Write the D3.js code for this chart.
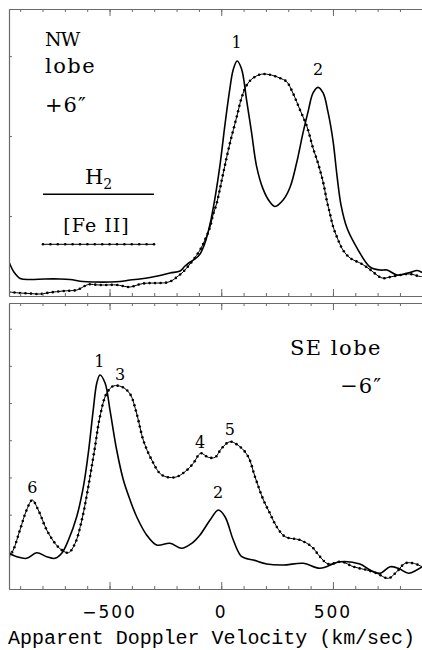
<!DOCTYPE html>
<html>
<head>
<meta charset="utf-8">
<script src="https://cdn.jsdelivr.net/npm/d3@7"></script>
<style>
  html, body { margin: 0; padding: 0; background: #fff; }
  svg { display: block; }
</style>
</head>
<body>
<svg id="chart" width="422" height="650"></svg>
<script>
// Velocity grid (km/s) and line intensities for the NW lobe (+6")
const nwH2Vel = [-950,-928,-900,-856,-789,-722,-677,-619,-565,-498,-453,-408,-364,-319,-274,-229,-184,-162,-139,-117,-95,-73,-50,-28,-5,17,39,53,71,91,113,136,158,187,218,241,277,308,337,366,389,411,433,456,478,500,518,536,563,608,666,711,742,787,845,877,899];
const nwH2Flux = [0.425,0.30,0.219,0.206,0.213,0.213,0.206,0.181,0.175,0.175,0.181,0.200,0.213,0.231,0.256,0.288,0.313,0.375,0.425,0.463,0.525,0.663,0.90,1.225,1.65,2.15,2.60,2.825,2.94,2.84,2.46,2.04,1.625,1.34,1.175,1.12,1.20,1.36,1.66,2.04,2.31,2.54,2.61,2.54,2.30,1.95,1.51,1.14,0.85,0.60,0.363,0.325,0.325,0.263,0.294,0.319,0.294];

const nwFeVel = [-950,-901,-856,-811,-766,-708,-646,-619,-596,-543,-466,-431,-408,-350,-274,-243,-216,-193,-171,-140,-126,-95,-73,-50,-37,-20,-5,9,39,69,92,114,142,181,226,263,293,321,353,383,411,433,456,474,487,500,518,545,577,630,666,720,756,800,845,890,899];
const nwFeFlux = [0.05,0.0375,0.031,0.025,0.044,0.0625,0.075,0.1125,0.144,0.1375,0.1375,0.119,0.1125,0.156,0.1625,0.169,0.20,0.25,0.30,0.40,0.45,0.575,0.70,0.8625,1.0125,1.1625,1.35,1.5375,1.9125,2.2375,2.4875,2.6375,2.725,2.775,2.7625,2.725,2.68,2.5375,2.325,2.125,1.85,1.6625,1.425,1.175,1.025,0.875,0.7375,0.575,0.475,0.40,0.331,0.225,0.2375,0.2625,0.275,0.244,0.244];

// Velocity grid (km/s) and line intensities for the SE lobe (-6")
const seH2Vel = [-950,-915,-871,-826,-781,-744,-714,-684,-647,-617,-595,-573,-557,-543,-520,-498,-468,-438,-408,-378,-334,-289,-229,-177,-132,-95,-50,-13,17,54,92,144,204,278,368,442,532,621,666,711,756,793,838,875,899];
const seH2Flux = [0.96,0.868,0.825,0.976,0.868,0.825,0.96,1.317,1.944,2.75,3.656,4.812,5.538,5.753,5.538,4.812,3.737,2.93,2.392,1.935,1.452,1.183,1.228,1.094,1.228,1.452,1.855,2.124,1.944,1.317,0.868,0.78,0.672,0.645,0.691,0.556,0.734,0.672,0.511,0.422,0.60,0.556,0.422,0.511,0.60];

const seFeVel = [-950,-931,-901,-871,-846,-819,-781,-744,-714,-684,-654,-624,-595,-565,-543,-513,-483,-445,-408,-378,-349,-311,-266,-207,-162,-125,-92,-58,-28,2,39,84,121,151,189,218,248,286,353,405,442,479,539,591,651,696,748,786,823,860,899];
const seFeFlux = [0.868,1.048,1.586,2.124,2.392,2.124,1.586,1.228,1.048,0.976,1.228,1.855,2.75,3.825,4.632,5.261,5.457,5.438,5.242,4.704,4.005,3.468,3.065,3.003,3.153,3.379,3.648,3.54,3.54,3.782,3.96,3.825,3.556,3.019,2.392,2.035,1.675,1.406,1.317,1.137,0.868,0.672,0.734,0.599,0.511,0.422,0.288,0.465,0.691,0.691,0.60];

// Peak identifiers: [velocity, intensity at label baseline, label]
const nwPeakVel = [69, 433];
const nwPeakY = [3.10, 2.76];
const nwPeakText = ["1", "2"];
const sePeakVel = [-546, -453, -95, 39, -14, -846];
const sePeakY = [5.97, 5.62, 3.79, 4.14, 2.45, 2.58];
const sePeakText = ["1", "3", "4", "5", "2", "6"];

// Axis ticks
const majorTicks = [-500, 0, 500];
const minorTicks = d3.range(-900, 901, 100);
const nwYTicks = [1, 2, 3];
const seYTicks = [1, 2, 3, 4, 5, 6, 7];
const xTitle = "Apparent Doppler Velocity (km/sec)";

const svg = d3.select("#chart");
const frameColor = "#6a6a6a";
const serif = "'DejaVu Serif', serif";
const sans = "'DejaVu Sans', sans-serif";
const mono = "'Liberation Mono', monospace";

const x = d3.scaleLinear().domain([-950, 900]).range([9, 422.3]);
const yNW = d3.scaleLinear().domain([0, 3.59]).range([296, 9]);
const ySE = d3.scaleLinear().domain([0, 7.69]).range([589, 303]);

function zip(v, f) { return v.map((d, i) => [d, f[i]]); }

function panel(id, y, yTicks, h2, fe) {
  const [y0, y1] = y.range();
  const g = svg.append("g");
  g.append("clipPath").attr("id", id)
    .append("rect").attr("x", x.range()[0]).attr("y", y1)
    .attr("width", 440).attr("height", y0 - y1);

  const line = d3.line().x(d => x(d[0])).y(d => y(d[1]))
    .curve(d3.curveCatmullRom.alpha(0.5));

  const plot = g.append("g").attr("clip-path", `url(#${id})`);
  // H2: solid line
  plot.append("path").datum(h2).attr("d", line)
    .attr("fill", "none").attr("stroke", "#000").attr("stroke-width", 1.6)
    .attr("stroke-linejoin", "round");
  // [Fe II]: thin line with dots along it
  const fePath = plot.append("path").datum(fe).attr("d", line)
    .attr("fill", "none").attr("stroke", "#000").attr("stroke-width", 1);
  const node = fePath.node();
  const len = node.getTotalLength();
  const pts = d3.range(0, len, 5.5).map(s => node.getPointAtLength(s));
  plot.append("g").selectAll("circle").data(pts).join("circle")
    .attr("cx", p => p.x).attr("cy", p => p.y).attr("r", 1.3).attr("fill", "#000");

  // Frame and ticks
  const axStyle = sel => {
    sel.select(".domain").attr("stroke", frameColor).attr("stroke-width", 1.2);
    sel.selectAll(".tick line").attr("stroke", frameColor).attr("stroke-width", 1);
    sel.selectAll("text").remove();
  };
  g.append("g").attr("transform", `translate(0,${y0})`)
    .call(d3.axisBottom(x).tickValues(minorTicks).tickSize(-3).tickSizeOuter(0)).call(axStyle);
  g.append("g").attr("transform", `translate(0,${y0})`)
    .call(d3.axisBottom(x).tickValues(majorTicks).tickSize(-7).tickSizeOuter(0)).call(axStyle);
  g.append("g").attr("transform", `translate(0,${y1})`)
    .call(d3.axisTop(x).tickValues(minorTicks).tickSize(-3).tickSizeOuter(0)).call(axStyle);
  g.append("g").attr("transform", `translate(0,${y1})`)
    .call(d3.axisTop(x).tickValues(majorTicks).tickSize(-7).tickSizeOuter(0)).call(axStyle);
  g.append("g").attr("transform", `translate(${x.range()[0]},0)`)
    .call(d3.axisLeft(y).tickValues(yTicks).tickSize(-3).tickSizeOuter(0)).call(axStyle);
  return g;
}

const gNW = panel("clipNW", yNW, nwYTicks, zip(nwH2Vel, nwH2Flux), zip(nwFeVel, nwFeFlux));
const gSE = panel("clipSE", ySE, seYTicks, zip(seH2Vel, seH2Flux), zip(seFeVel, seFeFlux));

// Peak numbers
function peakLabels(g, y, vel, yy, txt) {
  g.append("g").selectAll("text").data(txt).join("text")
    .attr("x", (d, i) => x(vel[i])).attr("y", (d, i) => y(yy[i]))
    .attr("text-anchor", "middle")
    .attr("font-family", serif).attr("font-size", 16).text(d => d);
}
peakLabels(gNW, yNW, nwPeakVel, nwPeakY, nwPeakText);
peakLabels(gSE, ySE, sePeakVel, sePeakY, sePeakText);

// Panel captions
const cap = (t, px, py, anchor, size, spacing) =>
  svg.append("text").attr("x", px).attr("y", py)
    .attr("text-anchor", anchor).attr("font-family", serif).attr("font-size", size)
    .attr("letter-spacing", spacing).text(t);
cap("NW", 45, 46, "start", 19, -1);
cap("lobe", 45, 73, "start", 21, 1.5);
cap("+6\u2033", 45, 111.5, "start", 21, 1);
cap("SE lobe", 382, 355, "end", 21, 1.5);
cap("\u22126\u2033", 382, 393, "end", 21, 1);

// Legend
const lx0 = 43, lx1 = 154;
svg.append("line").attr("x1", lx0).attr("x2", lx1).attr("y1", 194.3).attr("y2", 194.3)
  .attr("stroke", "#000").attr("stroke-width", 1.6);
const h2 = svg.append("text").attr("x", (lx0 + lx1) / 2).attr("y", 184)
  .attr("text-anchor", "middle").attr("font-family", serif).attr("font-size", 21);
h2.append("tspan").text("H");
h2.append("tspan").attr("font-size", 14).attr("dy", 5).text("2");
svg.append("text").attr("x", (lx0 + lx1) / 2 - 2).attr("y", 232)
  .attr("text-anchor", "middle").attr("font-family", serif).attr("font-size", 19)
  .attr("letter-spacing", 1).text("[Fe II]");
svg.append("line").attr("x1", lx0).attr("x2", lx1).attr("y1", 244.3).attr("y2", 244.3)
  .attr("stroke", "#000").attr("stroke-width", 1);
svg.append("g").selectAll("circle").data(d3.range(lx0, lx1 + 0.1, 7.4)).join("circle")
  .attr("cx", d => d).attr("cy", 244.3).attr("r", 1.3).attr("fill", "#000");

// Tick labels and axis title
const fmt = d3.format("d");
svg.append("g").selectAll("text").data(majorTicks).join("text")
  .attr("x", d => x(d)).attr("y", 618).attr("text-anchor", "middle")
  .attr("font-family", sans).attr("font-size", 17).attr("letter-spacing", 2)
  .text(d => fmt(d).replace("-", "\u2212"));
svg.append("text").attr("x", 211.5).attr("y", 644).attr("text-anchor", "middle")
  .attr("font-family", mono).attr("font-size", 20)
  .attr("textLength", 407).attr("lengthAdjust", "spacing")
  .text(xTitle);
</script>
</body>
</html>
